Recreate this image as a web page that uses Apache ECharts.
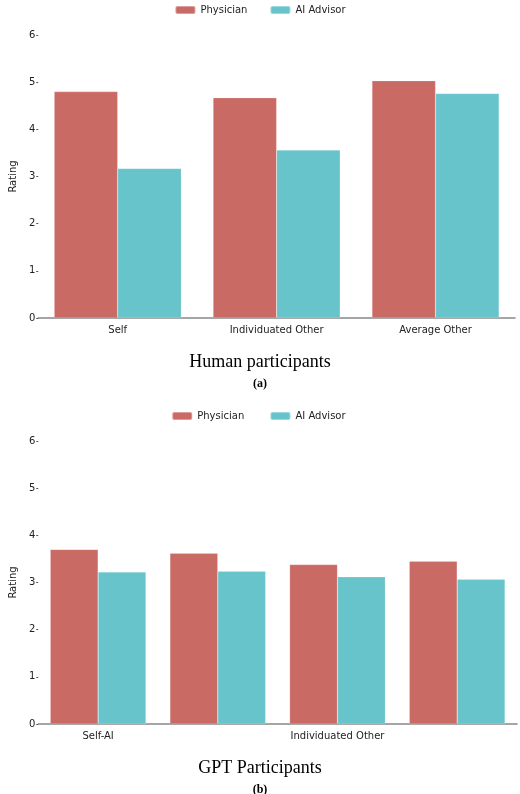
<!DOCTYPE html>
<html><head><meta charset="utf-8">
<script src="https://cdn.jsdelivr.net/npm/echarts@6/dist/echarts.min.js"></script>
<style>html,body{margin:0;padding:0;background:#fff}#c{width:520px;height:794px}</style>
</head><body><div id="c"></div>
<script>
const catsA = ['Self','Individuated Other','Average Other'];
const physA = [4.80, 4.67, 5.03];
const aiA = [3.17, 3.56, 4.76];
const catsB = ['Self-AI','Self-User','Individuated Other','Average Other'];
const physB = [3.70, 3.62, 3.38, 3.45];
const aiB = [3.22, 3.24, 3.12, 3.07];
const yTicks = [0,1,2,3,4,5,6];

const RED = '#c96b64', TEAL = '#68c4cb';
const font = 'DejaVu Sans';
function xAx(idx, cats){return {type:'category',gridIndex:idx,data:cats,
  axisLine:{lineStyle:{color:'#888',width:1.5}},axisTick:{show:false},
  axisLabel:{color:'#222',fontFamily:font,fontSize:10,margin:7}};}
function yAx(idx){return {type:'value',gridIndex:idx,min:0,max:6,interval:1,
  name:'Rating',nameLocation:'middle',nameGap:13,nameTextStyle:{color:'#222',fontFamily:font,fontSize:10},
  axisLine:{show:false},axisTick:{show:true,length:2,lineStyle:{color:'#555'}},splitLine:{show:false},
  axisLabel:{color:'#222',fontFamily:font,fontSize:10,margin:3,
    formatter:v=>yTicks.includes(v)?String(v):''}};}
function bar(name,data,color,idx){return {type:'bar',name,data,xAxisIndex:idx,yAxisIndex:idx,
  barGap:'0%',barCategoryGap:'20%',itemStyle:{color,borderColor:'rgba(255,255,255,0.35)',borderWidth:0.5},
  emphasis:{disabled:true}};}
const chart = echarts.init(document.getElementById('c'));
chart.setOption({
  animation:false,
  legend:[
    {top:0,left:'center',itemWidth:20,itemHeight:8,itemGap:22,textStyle:{fontFamily:font,fontSize:10,color:'#222'},
     data:['Physician','AI Advisor']},
    {top:406,left:'center',itemWidth:20,itemHeight:8,itemGap:22,textStyle:{fontFamily:font,fontSize:10,color:'#222'},
     data:['Physician ','AI Advisor ']}
  ],
  title:[
    {text:'Human participants',left:'center',top:348,textStyle:{fontFamily:'Liberation Serif',fontSize:18,fontWeight:'normal',color:'#000'}},
    {text:'(a)',left:'center',top:373,textStyle:{fontFamily:'Liberation Serif',fontSize:12,fontWeight:'bold',color:'#000'}},
    {text:'GPT Participants',left:'center',top:754,textStyle:{fontFamily:'Liberation Serif',fontSize:18,fontWeight:'normal',color:'#000'}},
    {text:'(b)',left:'center',top:779,textStyle:{fontFamily:'Liberation Serif',fontSize:12,fontWeight:'bold',color:'#000'}}
  ],
  grid:[{left:25,right:5,top:35,height:283},{left:27,right:3,top:441,height:283}],
  xAxis:[xAx(0,catsA),xAx(1,catsB)],
  yAxis:[yAx(0),yAx(1)],
  series:[bar('Physician',physA,RED,0),bar('AI Advisor',aiA,TEAL,0),
          bar('Physician ',physB,RED,1),bar('AI Advisor ',aiB,TEAL,1)]
});
</script></body></html>
